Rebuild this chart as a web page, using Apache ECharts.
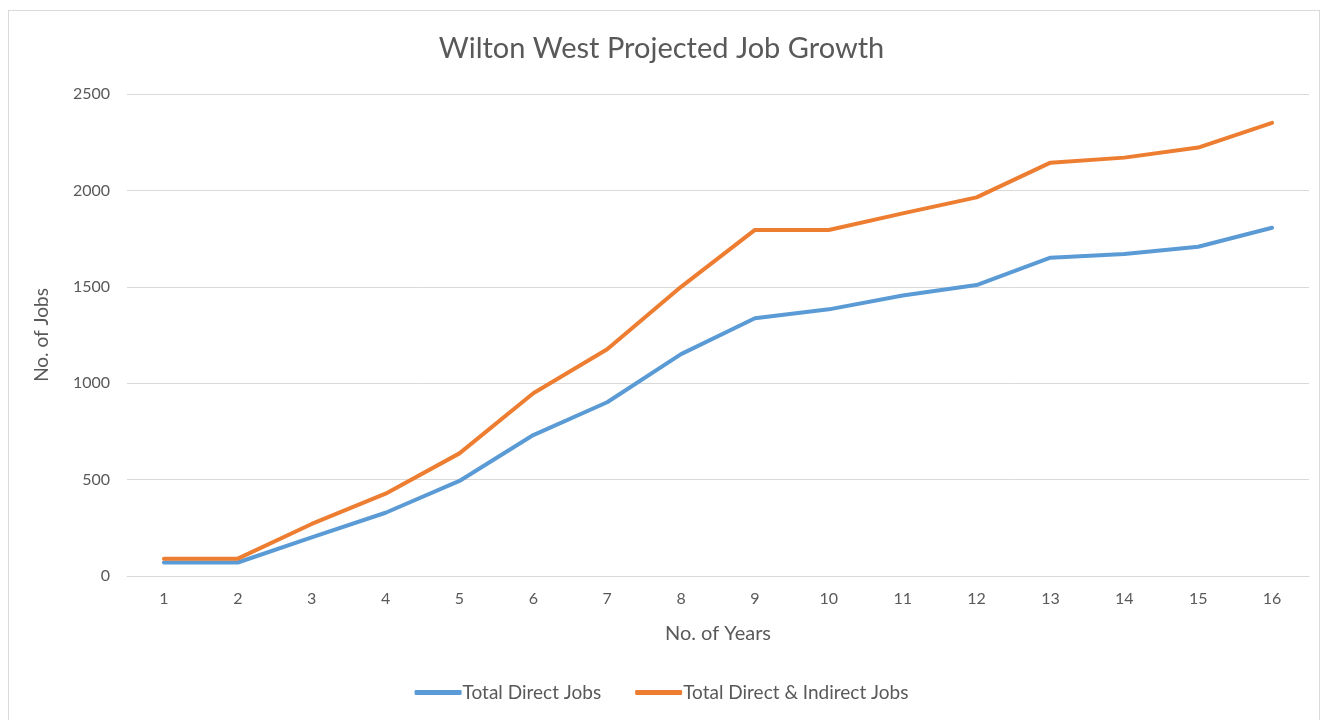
<!DOCTYPE html>
<html>
<head>
<meta charset="utf-8">
<script src="https://cdn.jsdelivr.net/npm/echarts@6/dist/echarts.min.js"></script>
<style>
html,body{margin:0;padding:0;background:#fff;}
#frame{position:absolute;left:8px;top:10px;width:1312px;height:720px;border:1px solid #d9d9d9;box-sizing:border-box;}
#chart{position:absolute;left:0;top:0;width:1323px;height:720px;}
</style>
</head>
<body>
<div id="frame"></div>
<div id="chart"></div>
<script>
const years = ['1','2','3','4','5','6','7','8','9','10','11','12','13','14','15','16'];
const directJobs = [70, 70, 200, 328, 493, 731, 901, 1151, 1337, 1383, 1455, 1509, 1651, 1670, 1708, 1806];
const directIndirectJobs = [90, 90, 270, 427, 636, 948, 1176, 1500, 1795, 1795, 1881, 1964, 2144, 2170, 2222, 2350];
const yTicks = [0, 500, 1000, 1500, 2000, 2500];

const chart = echarts.init(document.getElementById('chart'));
const font = 'Lato, "Open Sans", sans-serif';
chart.setOption({
  backgroundColor: 'transparent',
  title: {
    text: 'Wilton West Projected Job Growth',
    left: 'center', top: 29,
    textStyle: {fontFamily: font, fontSize: 29, fontWeight: 'normal', color: '#595959'}
  },
  legend: {
    bottom: 13, left: 'center', itemGap: 34,
    itemWidth: 47, itemHeight: 5,
    icon: 'roundRect',
    textStyle: {fontFamily: font, fontSize: 19, color: '#595959', padding: [0,0,0,-4]},
    data: ['Total Direct Jobs', 'Total Direct & Indirect Jobs']
  },
  grid: {left: 127, right: 14, top: 94, bottom: 144},
  xAxis: {
    type: 'category', data: years, boundaryGap: true,
    name: 'No. of Years', nameLocation: 'middle', nameGap: 48,
    nameTextStyle: {fontFamily: font, fontSize: 20, color: '#595959'},
    axisLine: {lineStyle: {color: '#d9d9d9', width: 1}},
    axisTick: {show: false},
    axisLabel: {fontFamily: font, fontSize: 16, color: '#595959', margin: 15}
  },
  yAxis: {
    type: 'value', min: 0, max: 2500, interval: 500,
    name: 'No. of Jobs', nameLocation: 'middle', nameGap: 76, nameRotate: 90,
    nameTextStyle: {fontFamily: font, fontSize: 19, color: '#595959'},
    axisLine: {show: false}, axisTick: {show: false},
    axisLabel: {fontFamily: font, fontSize: 16, color: '#595959', margin: 17,
      formatter: v => yTicks.includes(v) ? String(v) : ''},
    splitLine: {lineStyle: {color: '#d9d9d9', width: 1}}
  },
  series: [
    {name: 'Total Direct Jobs', type: 'line', data: directJobs, showSymbol: false, symbol: 'none',
     lineStyle: {color: '#5B9BD5', width: 4, cap: 'round', join: 'round'}, itemStyle: {color: '#5B9BD5'}},
    {name: 'Total Direct & Indirect Jobs', type: 'line', data: directIndirectJobs, showSymbol: false, symbol: 'none',
     lineStyle: {color: '#ED7D31', width: 4, cap: 'round', join: 'round'}, itemStyle: {color: '#ED7D31'}}
  ]
});
</script>
</body>
</html>
